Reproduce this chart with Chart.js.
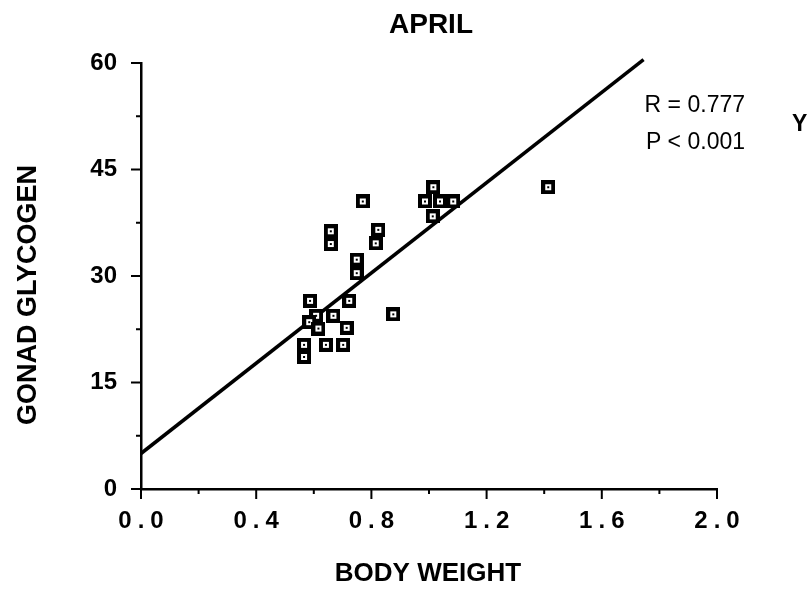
<!DOCTYPE html>
<html>
<head>
<meta charset="utf-8">
<script src="https://cdn.jsdelivr.net/npm/chart.js@4.4.1/dist/chart.umd.min.js"></script>
<style>
  html, body { margin: 0; padding: 0; background: #fff; }
  canvas { display: block; }
</style>
</head>
<body>
<canvas id="aprilChart" width="808" height="589"></canvas>
<script>
'use strict';

// 4월 측정값 (체중, 생식소 글리코겐)
const bodyWeight = [
    1.015, 0.986, 1.038, 1.084, 1.013, 0.770, 0.659, 0.659, 0.824, 0.815,
    0.749, 0.749, 0.587, 0.723, 0.668, 0.608, 0.584, 0.616, 0.714, 0.876,
    0.566, 0.642, 0.702, 0.566, 1.414
];
const gonadGlycogen = [
    42.5, 40.5, 40.5, 40.5, 38.4, 40.5, 36.3, 34.5, 36.5, 34.6,
    32.3, 30.4, 26.5, 26.5, 24.4, 24.4, 23.5, 22.6, 22.7, 24.6,
    20.3, 20.3, 20.3, 18.6, 42.5
];

// 회귀직선 (절편, 기울기, 끝나는 x)
const fitIntercept = 5.0;
const fitSlope = 31.8;
const fitEnd = 1.745;

// 축 눈금
const xTickLabels = [0.0, 0.4, 0.8, 1.2, 1.6, 2.0];
const yTickLabels = [0, 15, 30, 45, 60];

const FONT = "'Liberation Sans', Arial, sans-serif";

// 점 모양: 검은 네모 안에 흰 칸, 가운데 점
const pointMark = (function () {
    const c = document.createElement('canvas');
    c.width = 14;
    c.height = 14;
    const g = c.getContext('2d');
    g.fillStyle = '#000';
    g.fillRect(0, 0, 14, 14);
    g.fillStyle = '#fff';
    g.fillRect(4, 4, 6, 6);
    g.fillStyle = '#000';
    g.fillRect(6, 6, 2, 2);
    return c;
})();

function isLabelled(v, list) {
    return list.some(t => Math.abs(t - v) < 1e-6);
}

// 눈금 표시 (큰 눈금 / 작은 눈금)
const tickMarks = {
    id: 'tickMarks',
    afterDraw(chart) {
        const ctx = chart.ctx;
        const xs = chart.scales.x;
        const ys = chart.scales.y;
        ctx.save();
        ctx.strokeStyle = '#000';
        ctx.lineWidth = 2;
        ctx.beginPath();
        xs.ticks.forEach(t => {
            const px = xs.getPixelForValue(t.value);
            const len = isLabelled(t.value, xTickLabels) ? 10 : 5;
            ctx.moveTo(px, xs.top);
            ctx.lineTo(px, xs.top + len);
        });
        ys.ticks.forEach(t => {
            const py = ys.getPixelForValue(t.value);
            const len = isLabelled(t.value, yTickLabels) ? 10 : 5;
            ctx.moveTo(ys.right, py);
            ctx.lineTo(ys.right - len, py);
        });
        ctx.stroke();
        ctx.restore();
    }
};

// 제목, 축 이름, 상관계수
const texts = {
    id: 'texts',
    afterDraw(chart) {
        const ctx = chart.ctx;
        ctx.save();
        ctx.fillStyle = '#000';
        ctx.textBaseline = 'middle';

        ctx.textAlign = 'center';
        ctx.font = 'bold 28px ' + FONT;
        ctx.fillText('APRIL', 431, 25);

        ctx.font = 'bold 26px ' + FONT;
        ctx.fillText('BODY WEIGHT', 428, 574);

        ctx.save();
        ctx.translate(29, 295);
        ctx.rotate(-Math.PI / 2);
        ctx.font = 'bold 27px ' + FONT;
        ctx.fillText('GONAD GLYCOGEN', 0, 0);
        ctx.restore();

        ctx.textAlign = 'right';
        ctx.font = '23px ' + FONT;
        ctx.fillText('R = 0.777', 745, 106);
        ctx.fillText('P < 0.001', 745, 143);

        ctx.textAlign = 'left';
        ctx.font = 'bold 23px ' + FONT;
        ctx.fillText('Y', 792, 125);
        ctx.restore();
    }
};

const data = {
    datasets: [
        {
            type: 'scatter',
            data: bodyWeight.map((w, i) => ({ x: w, y: gonadGlycogen[i] })),
            pointStyle: pointMark,
            pointRadius: 7,
            pointHoverRadius: 7
        },
        {
            type: 'line',
            data: [
                { x: 0, y: fitIntercept },
                { x: fitEnd, y: fitIntercept + fitSlope * fitEnd }
            ],
            borderColor: '#000',
            borderWidth: 3.5,
            pointRadius: 0,
            clip: false
        }
    ]
};

const config = {
    type: 'scatter',
    data,
    options: {
        responsive: false,
        animation: false,
        layout: { padding: { top: 63, right: 91, left: 0, bottom: 0 } },
        plugins: {
            legend: { display: false },
            tooltip: { enabled: false }
        },
        scales: {
            x: {
                type: 'linear',
                min: 0,
                max: 2,
                grid: { display: false },
                border: { display: true, color: '#000', width: 2.5 },
                ticks: {
                    stepSize: 0.2,
                    padding: 10,
                    color: '#000',
                    font: { family: FONT, size: 24, weight: 'bold' },
                    maxRotation: 0,
                    autoSkip: false,
                    callback: v => isLabelled(v, xTickLabels)
                        ? v.toFixed(1).split('').join('\u2005') : ''
                },
                afterFit: s => { s.height = 100; }
            },
            y: {
                min: 0,
                max: 60,
                grid: { display: false },
                border: { display: true, color: '#000', width: 2.5 },
                ticks: {
                    stepSize: 7.5,
                    padding: 16,
                    color: '#000',
                    font: { family: FONT, size: 24, weight: 'bold' },
                    autoSkip: false,
                    callback: v => isLabelled(v, yTickLabels) ? String(v) : ''
                },
                afterFit: s => { s.width = 141; }
            }
        }
    },
    plugins: [tickMarks, texts]
};

const aprilChart = new Chart(document.getElementById('aprilChart'), config);
</script>
</body>
</html>
